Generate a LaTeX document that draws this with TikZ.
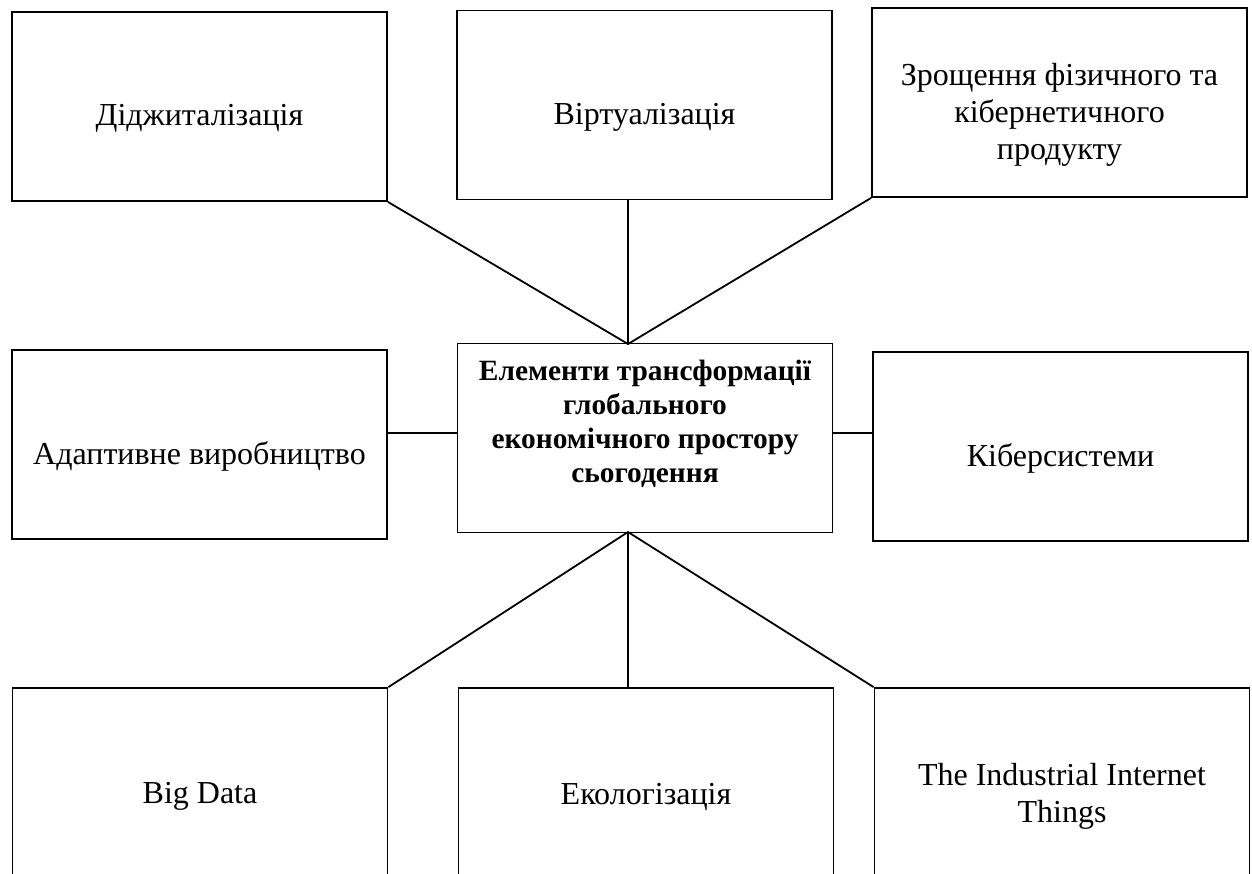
\documentclass[tikz,border=0pt]{standalone}
\usepackage{fontspec}
\setmainfont{Liberation Serif}
\usepackage{tikz}
\usetikzlibrary{calc,positioning}

\begin{document}
\begin{tikzpicture}[x=0.5pt,y=-0.5pt,line width=0.9pt]

\tikzset{elbox/.style={draw=black,fill=white,minimum width=187.5pt,minimum height=94.5pt,inner sep=0pt},
eltext/.style={inner sep=1pt,align=center,font=\fontsize{16}{18.5}\selectfont},
maintext/.style={eltext,font=\fontsize{14.7}{17}\selectfont\bfseries}}

% Page
\useasboundingbox (0,0) rectangle (1252,873);
\clip (0,0) rectangle (1252,873);

% Top row
\node[elbox] (dig) at (199.5,106.5) {};
\node[elbox] (virt) at (644.5,105) {};
\node[elbox] (zrosh) at (1059.5,102.5) {};
\node[eltext] (digtxt) at ($(dig)+(0,12)$) {Діджиталізація};
\node[eltext] (virttxt) at ($(virt)+(0,12)$) {Віртуалізація};
\node[eltext] (zroshtxt) at ($(zrosh)+(0,12)$) {Зрощення фізичного та\\кібернетичного\\продукту};

% Middle row
\node[elbox] (adapt) at (199.5,444.5) {};
\node[elbox] (elem) at (645,438) {};
\node[elbox] (kiber) at (1060.5,446.5) {};
\node[eltext] (adapttxt) at ($(adapt)+(0,12)$) {Адаптивне виробництво};
\node[maintext] (elemtxt) at ($(elem)+(0,-14)$) {Елементи трансформації\\глобального\\економічного простору\\сьогодення};
\node[eltext] (kibertxt) at ($(kiber)+(0,12)$) {Кіберсистеми};

% Bottom row (cut by the page)
\node[elbox] (big) at (200,782.5) {};
\node[elbox] (ekol) at (646,782.5) {};
\node[elbox] (iiot) at (1062,782.5) {};
\node[eltext] (bigtxt) at ($(big)+(0,14)$) {Big Data};
\node[eltext] (ekoltxt) at ($(ekol)+(0,14)$) {Екологізація};
\node[eltext] (iiottxt) at ($(iiot)+(0,14)$) {The Industrial Internet\\Things};

% Meeting points on the main box
\coordinate (top) at (628,344);
\coordinate (bot) at (628,532);
\coordinate (mid) at (645,433);

% Connectors
\draw (dig.south east) -- (top) -- (zrosh.south west);
\draw (virt.south -| top) -- (top);
\draw (adapt.east |- mid) -- (elem.west |- mid);
\draw (elem.east |- mid) -- (kiber.west |- mid);
\draw (big.north east) -- (bot) -- (iiot.north west);
\draw (ekol.north -| bot) -- (bot);

\end{tikzpicture}
\end{document}
